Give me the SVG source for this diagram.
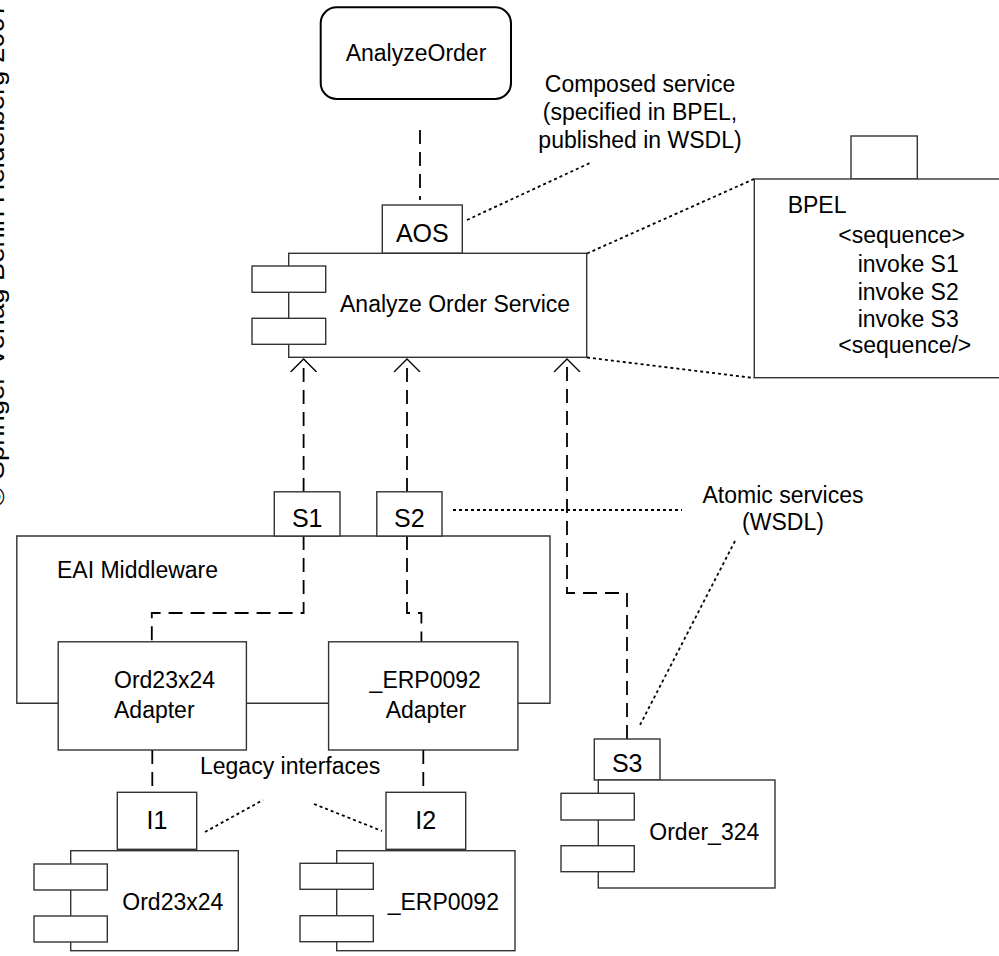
<svg xmlns="http://www.w3.org/2000/svg" width="999" height="956" viewBox="0 0 999 956">
<defs>
<style>
text{font-family:"Liberation Sans",Arial,sans-serif;font-size:23px;fill:#000}
.port{font-size:25px}
.mid{text-anchor:middle}
.box{fill:#fff;stroke:#333;stroke-width:1.4}
.dash{fill:none;stroke:#000;stroke-width:1.8;stroke-dasharray:14 8}
.dot{fill:none;stroke:#000;stroke-width:1.8;stroke-dasharray:3 3}
.solid{fill:none;stroke:#333;stroke-width:1.4}
</style>
<marker id="open" viewBox="0 0 14 28" refX="13" refY="14" markerWidth="14" markerHeight="28" markerUnits="userSpaceOnUse" orient="auto">
<path d="M0,1 L13,14 L0,27" fill="none" stroke="#000" stroke-width="1.4" stroke-dasharray="none"/>
</marker>
</defs>
<rect width="999" height="956" fill="#fff"/>
<text transform="translate(4,507) rotate(-90)" style="font-size:26px" textLength="505" lengthAdjust="spacingAndGlyphs">© Springer-Verlag Berlin Heidelberg 2007</text>

<g id="connectors">
<path class="dash" d="M420,130 V200"/>
<path class="dash" d="M303.6,492 V359" marker-end="url(#open)"/>
<path class="dash" d="M407,492 V359" marker-end="url(#open)"/>
<path class="dash" d="M627,739 V593 H567 V359" marker-end="url(#open)"/>
<path class="dash" d="M303.6,536 V613 H151.8 V642"/>
<path class="dash" d="M407,536 V613 H421.4 V642"/>
<path class="dash" d="M152.3,750 V792"/>
<path class="dash" d="M423.3,750 V792"/>
<path class="dot" d="M467,220 L592,162"/>
<path class="dot" d="M587,253.5 L754,179"/>
<path class="dot" d="M587,357.5 L754,378"/>
<path class="dot" d="M453,510 H682"/>
<path class="dot" d="M735,541 L639,727"/>
<path class="dot" d="M205,832 L263,800"/>
<path class="dot" d="M314,804 L382,831"/>
</g>

<g id="AnalyzeOrder">
<rect x="320.7" y="7.3" width="190.3" height="91.7" rx="16" fill="#fff" stroke="#000" stroke-width="2"/>
<text class="mid" x="416" y="61">AnalyzeOrder</text>
</g>

<g id="composedNote">
<text class="mid" x="640" y="92">Composed service</text>
<text class="mid" x="640" y="120">(specified in BPEL,</text>
<text class="mid" x="640" y="148">published in WSDL)</text>
</g>

<g id="AOS">
<rect class="box" x="382.3" y="205" width="80" height="48.3"/>
<text class="port mid" x="422.3" y="242">AOS</text>
</g>

<g id="AnalyzeOrderService">
<rect class="box" x="288.7" y="253.3" width="298" height="104"/>
<rect class="box" x="252" y="266" width="73.7" height="26.3"/>
<rect class="box" x="252" y="318.3" width="73.7" height="26"/>
<text x="340" y="311.7">Analyze Order Service</text>
</g>

<g id="BPEL">
<rect class="box" x="851" y="136" width="66.3" height="43"/>
<rect class="box" x="754.3" y="179" width="260" height="198.7"/>
<text x="787.7" y="213.3">BPEL</text>
<text x="838.3" y="243.3">&lt;sequence&gt;</text>
<text x="857.7" y="271.7">invoke S1</text>
<text x="857.7" y="300">invoke S2</text>
<text x="857.7" y="326.7">invoke S3</text>
<text x="838.3" y="353.3">&lt;sequence/&gt;</text>
</g>

<g id="EAIMiddleware">
<path class="solid" d="M58.2,703.2 H16.8 V536 H550 V703.2 H517.9 M246.4,703.2 H328.6"/>
<text x="57" y="578">EAI Middleware</text>
</g>

<g id="S1">
<rect class="box" x="274.3" y="491.8" width="65.7" height="44.2"/>
<text class="port mid" x="307.2" y="527">S1</text>
</g>

<g id="S2">
<rect class="box" x="376.8" y="491.8" width="65.2" height="44.2"/>
<text class="port mid" x="409.4" y="527">S2</text>
</g>

<g id="Ord23x24Adapter">
<rect class="box" x="58.2" y="641.8" width="188.2" height="108.2"/>
<text x="114" y="688">Ord23x24</text>
<text x="114" y="717.5">Adapter</text>
</g>

<g id="ERP0092Adapter">
<rect class="box" x="328.6" y="641.8" width="189.3" height="108.2"/>
<text x="369.6" y="688">_ERP0092</text>
<text x="385.7" y="717.5">Adapter</text>
</g>

<g id="atomicNote">
<text class="mid" x="783" y="502.7">Atomic services</text>
<text class="mid" x="783" y="530">(WSDL)</text>
</g>

<g id="S3">
<rect class="box" x="594.3" y="739" width="65.7" height="41"/>
<text class="port mid" x="627.2" y="772">S3</text>
</g>

<g id="Order_324">
<rect class="box" x="598.3" y="780" width="176.7" height="108"/>
<rect class="box" x="561" y="793.3" width="73.3" height="26.7"/>
<rect class="box" x="561" y="845.7" width="73.3" height="26"/>
<text x="649.3" y="840">Order_324</text>
</g>

<g id="legacyNote">
<text x="200" y="774.3">Legacy interfaces</text>
</g>

<g id="I1">
<rect class="box" x="117.3" y="792.3" width="79.4" height="57"/>
<text class="port mid" x="157" y="829.3">I1</text>
</g>

<g id="I2">
<rect class="box" x="386" y="792.3" width="79.7" height="57"/>
<text class="port mid" x="425.8" y="829.3">I2</text>
</g>

<g id="Ord23x24">
<rect class="box" x="70.7" y="850.7" width="167.6" height="100"/>
<rect class="box" x="34" y="864" width="73.3" height="26"/>
<rect class="box" x="34" y="916" width="73.3" height="26"/>
<text x="122.3" y="910">Ord23x24</text>
</g>

<g id="ERP0092">
<rect class="box" x="336.7" y="850.7" width="178.3" height="100"/>
<rect class="box" x="300" y="863.3" width="73.3" height="26"/>
<rect class="box" x="300" y="915.7" width="73.3" height="26"/>
<text x="387.7" y="910">_ERP0092</text>
</g>
</svg>
